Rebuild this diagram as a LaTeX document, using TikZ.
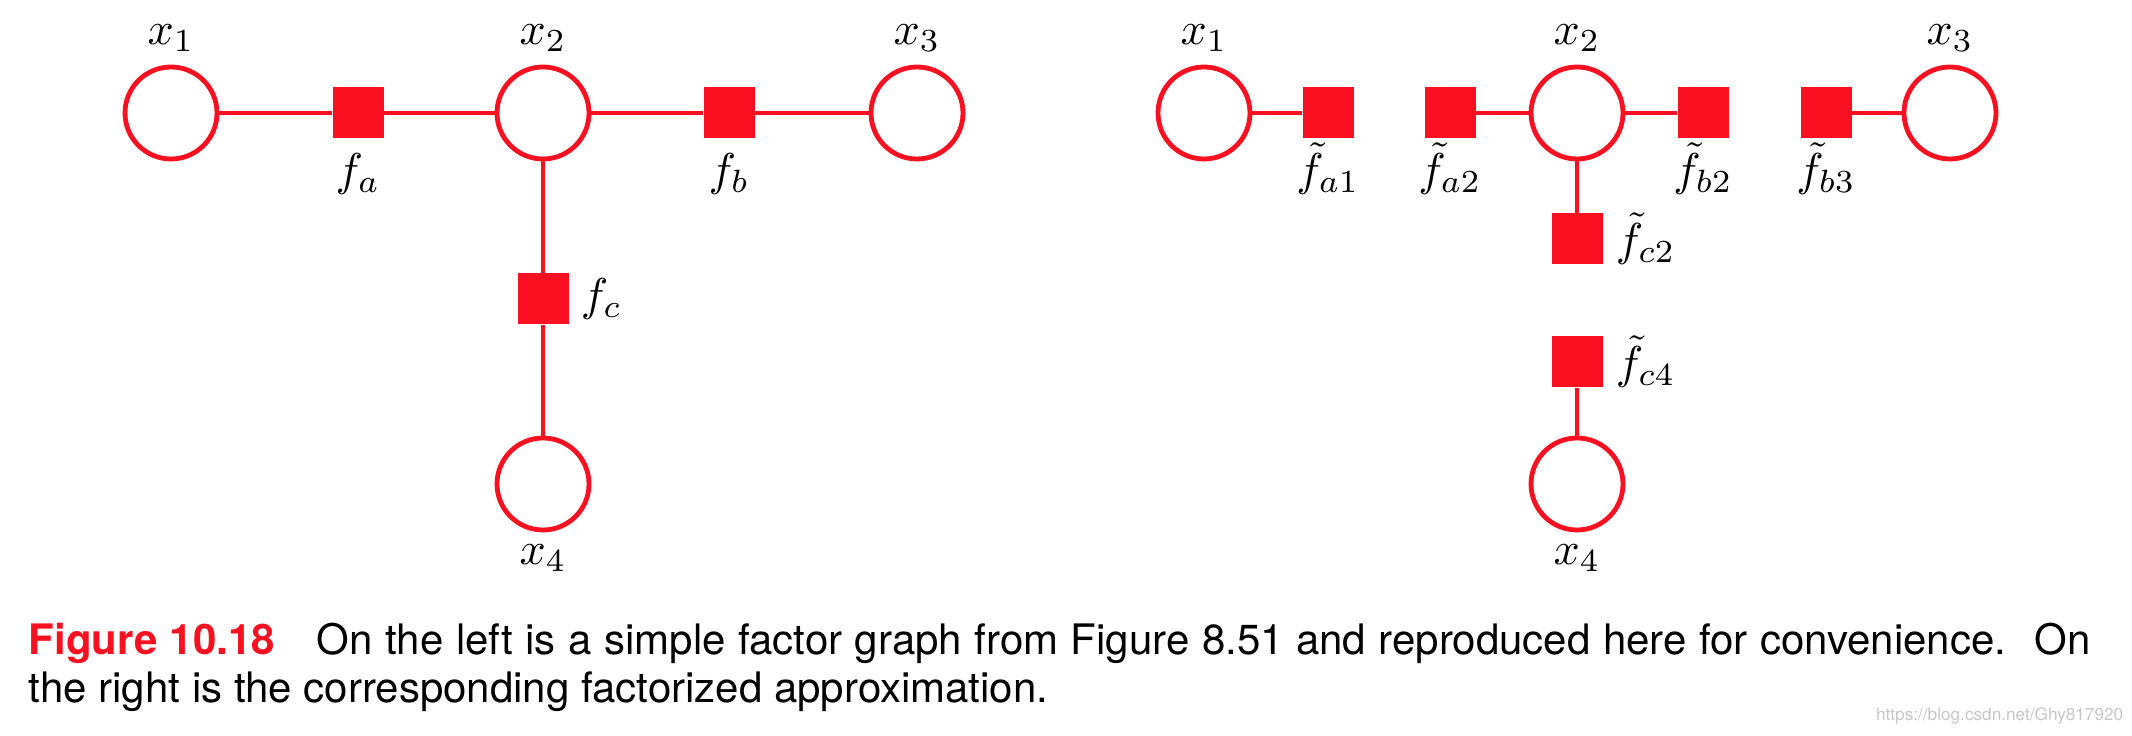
\documentclass[tikz,border=0pt]{standalone}
\usepackage{fontspec}
\newfontfamily\capfont{TeX Gyre Heros}
\definecolor{fgred}{RGB}{250,16,32}
\newcommand{\mylbl}[1]{\scalebox{1.15}{$#1$}}
\begin{document}
\begin{tikzpicture}[x=0.25pt,y=-0.25pt,
  var/.style={circle,draw=fgred,line width=1.2pt,minimum size=23pt,inner sep=0pt,fill=white},
  fac/.style={rectangle,fill=fgred,minimum size=12.75pt,inner sep=0pt},
  edge/.style={draw=fgred,line width=1.2pt},
  lbl/.style={inner sep=0pt,anchor=base},
  slbl/.style={lbl,anchor=base west},
  captxt/.style={inner sep=0pt,anchor=base west,font=\capfont\fontsize{10.5}{12}\selectfont}]
\useasboundingbox (0,0) rectangle (2132,736);
% left graph
\node[var] (x1L) at (171,113) {};
\node[fac] (fa) at (358,113) {};
\node[var] (x2L) at (543,113) {};
\node[fac] (fb) at (729,113) {};
\node[var] (x3L) at (917,113) {};
\node[fac] (fc) at (543,299) {};
\node[var] (x4L) at (543,484) {};
\draw[edge] (x1L) -- (fa);
\draw[edge] (fa) -- (x2L);
\draw[edge] (x2L) -- (fb);
\draw[edge] (fb) -- (x3L);
\draw[edge] (x2L) -- (fc);
\draw[edge] (fc) -- (x4L);
\node[lbl] (lx1L) at (171,45) {\mylbl{x_1}};
\node[lbl] (lx2L) at (543,45) {\mylbl{x_2}};
\node[lbl] (lx3L) at (917,45) {\mylbl{x_3}};
\node[lbl] (lx4L) at (543,565) {\mylbl{x_4}};
\node[lbl] (lfa) at (358,186) {\mylbl{f_a}};
\node[lbl] (lfb) at (729,186) {\mylbl{f_b}};
\node[slbl] (lfc) at (580,311) {\mylbl{f_c}};
% right graph
\node[var] (x1R) at (1204,113) {};
\node[fac] (fa1) at (1328,113) {};
\node[fac] (fa2) at (1450,113) {};
\node[var] (x2R) at (1577,113) {};
\node[fac] (fb2) at (1703,113) {};
\node[fac] (fb3) at (1826,113) {};
\node[var] (x3R) at (1950,113) {};
\node[fac] (fc2) at (1577,239) {};
\node[fac] (fc4) at (1577,362) {};
\node[var] (x4R) at (1577,484) {};
\draw[edge] (x1R) -- (fa1);
\draw[edge] (fa2) -- (x2R);
\draw[edge] (x2R) -- (fb2);
\draw[edge] (fb3) -- (x3R);
\draw[edge] (x2R) -- (fc2);
\draw[edge] (fc4) -- (x4R);
\node[lbl] (lx1R) at (1204,45) {\mylbl{x_1}};
\node[lbl] (lx2R) at (1577,45) {\mylbl{x_2}};
\node[lbl] (lx3R) at (1950,45) {\mylbl{x_3}};
\node[lbl] (lx4R) at (1577,565) {\mylbl{x_4}};
\node[lbl] (lfa1) at (1328,186) {\mylbl{\tilde{f}_{a1}}};
\node[lbl] (lfa2) at (1450,186) {\mylbl{\tilde{f}_{a2}}};
\node[lbl] (lfb2) at (1703,186) {\mylbl{\tilde{f}_{b2}}};
\node[lbl] (lfb3) at (1826,186) {\mylbl{\tilde{f}_{b3}}};
\node[slbl] (lfc2) at (1615,256) {\mylbl{\tilde{f}_{c2}}};
\node[slbl] (lfc4) at (1615,379) {\mylbl{\tilde{f}_{c4}}};
% caption
\node[captxt] (cap1) at (28,655) {\makebox[515.5pt][s]{\textcolor{fgred}{\bfseries Figure 10.18}\hspace{1em}On the left is a simple factor graph from Figure 8.51 and reproduced here for convenience.\hspace{0.25em} On}};
\node[captxt] (cap2) at (28,703) {the right is the corresponding factorized approximation.};
\node[inner sep=0pt,anchor=base east,text=black!22,font=\capfont\fontsize{4.3}{5}\selectfont] (wm) at (2124,721) {https://blog.csdn.net/Ghy817920};
\end{tikzpicture}
\end{document}
